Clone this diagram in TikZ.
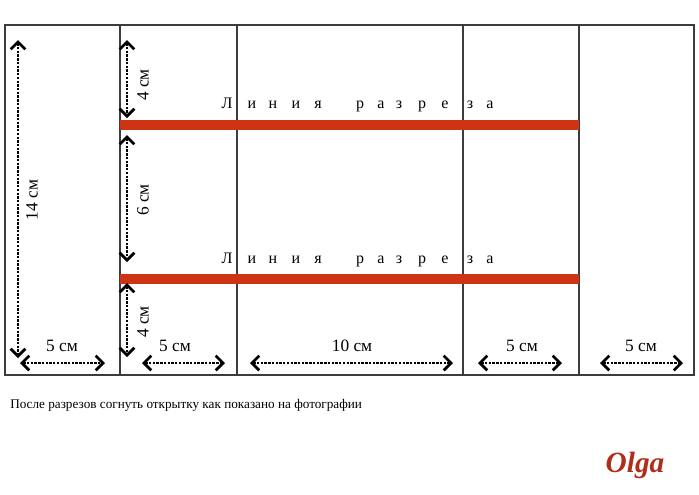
\documentclass[tikz,border=0pt]{standalone}
\usepackage{fontspec}
\setmainfont{Liberation Serif}
\usetikzlibrary{arrows.meta}
\definecolor{cutred}{RGB}{204,52,20}
\definecolor{olgared}{RGB}{175,45,25}
\definecolor{gridgray}{RGB}{60,60,60}
\tikzset{
  gridline/.style={color=gridgray,line width=1pt},
  cutline/.style={color=cutred,line width=6.8pt},
  barb/.tip={Straight Barb[length=5.5pt,width=11pt,line width=2pt]},
  dim/.style={densely dotted,line width=1.8pt,barb-barb},
  dimlabel/.style={font=\fontsize{13}{15}\selectfont,inner sep=0pt},
  cutletter/.style={font=\fontsize{12}{14}\selectfont,inner sep=0pt,anchor=base},
}

\begin{document}
\begin{tikzpicture}[x=0.75pt,y=-0.75pt]
\useasboundingbox (0,0) rectangle (699,494);
% card outline and fold lines
\draw[gridline] (5,25) rectangle (694,375);
\foreach \x in {120,237,463,579}{
	\draw[gridline] (\x,25) -- (\x,375);
}
% cut lines
\foreach \y in {125,279}{
	\coordinate (cut\y a) at (120,\y);
	\coordinate (cut\y b) at (579,\y);
	\draw[cutline] (cut\y a) -- (cut\y b);
}
\foreach \y in {108,263}{
	\foreach \ch/\x in {Л/227,и/252,н/273,и/296,я/318,р/360,а/381,з/399,р/422,е/445,з/470,а/490}{
		\node[cutletter] at (\x,\y) {\ch};
	}
}
% height
\coordinate (h1) at (18,40);
\coordinate (h2) at (18,358);
\draw[dim] (h1) -- (h2);
\node[dimlabel,rotate=90] (lh) at (32,200) {14 см};
\foreach \a/\b/\m/\t in {40/118/85/4 см,135/262/200/6 см,283/357/322/4 см}{
	\coordinate (v\a) at (127,\a);
	\coordinate (v\b) at (127,\b);
	\draw[dim] (v\a) -- (v\b);
	\node[dimlabel,rotate=90] (lv\a) at (143,\m) {\t};
}
% widths
\foreach \a/\b/\m/\t in {20/105/62/5 см,142/225/175/5 см,250/453/352/10 см,478/562/522/5 см,600/683/641/5 см}{
	\coordinate (w\a) at (\a,363);
	\coordinate (w\b) at (\b,363);
	\draw[dim] (w\a) -- (w\b);
	\node[dimlabel] (lw\a) at (\m,346) {\t};
}
\node[anchor=west,inner sep=0pt,font=\fontsize{9.9}{11}\selectfont] (note) at (10,405)
	{После разрезов согнуть открытку как показано на фотографии};
\node[inner sep=0pt,anchor=base,color=olgared,font=\fontsize{22}{24}\selectfont\itshape\bfseries] (sign) at (635,472) {Olga};
\end{tikzpicture}
\end{document}
